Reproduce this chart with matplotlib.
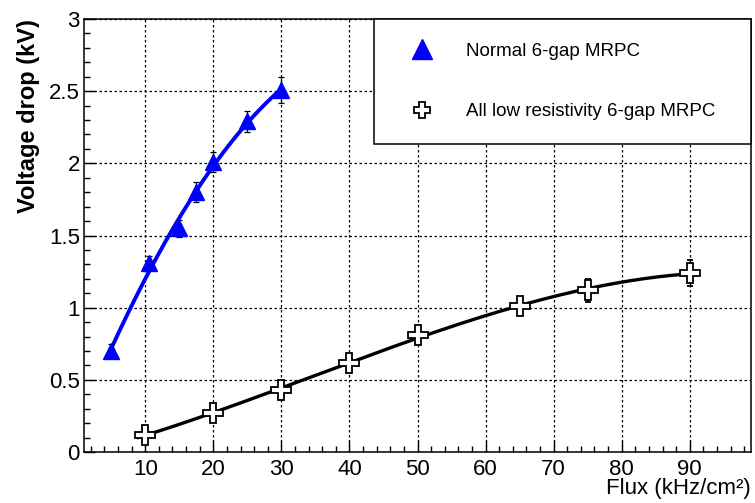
import numpy as np
import matplotlib
matplotlib.use("Agg")
import matplotlib.pyplot as plt
from matplotlib.lines import Line2D
from matplotlib.ticker import MultipleLocator

plt.rcParams['font.family'] = ['Liberation Sans', 'DejaVu Sans']

# Data
normal_x = [5, 10.5, 15, 17.5, 20, 25, 30]
normal_y = [0.70, 1.31, 1.55, 1.80, 2.01, 2.29, 2.51]
normal_err = [0.05, 0.05, 0.06, 0.07, 0.07, 0.07, 0.09]

lowres_x = [10, 20, 30, 40, 50, 65, 75, 90]
lowres_y = [0.12, 0.27, 0.43, 0.62, 0.81, 1.01, 1.12, 1.24]
lowres_err = [0.06, 0.05, 0.05, 0.05, 0.05, 0.05, 0.08, 0.09]

labels = ["Normal 6-gap MRPC", "All low resistivity 6-gap MRPC"]
xticks = [10, 20, 30, 40, 50, 60, 70, 80, 90]
yticks = [0, 0.5, 1, 1.5, 2, 2.5, 3]

fig = plt.figure(figsize=(7.55, 5.03), dpi=100)
ax = fig.add_axes([84/755, 51/503, 667/755, 433/503])

# fit curves derived from data
pn = np.polyfit(normal_x, normal_y, 2)
xn = np.linspace(4.8, 30, 200)
ax.plot(xn, np.polyval(pn, xn), color='#0000ff', lw=2.8, zorder=3)

pl = np.polyfit(lowres_x, lowres_y, 3)
xl = np.linspace(9, 90, 300)
ax.plot(xl, np.polyval(pl, xl), color='black', lw=2.4, zorder=3)

ax.errorbar(normal_x, normal_y, yerr=normal_err, fmt='^', color='#0000ff',
            ms=12, ecolor='black', elinewidth=0.9, capsize=2, capthick=0.9, zorder=4)
ax.errorbar(lowres_x, lowres_y, yerr=lowres_err, fmt='P', mfc='white', mec='black',
            mew=1.3, ms=14, ecolor='black', elinewidth=0.9, capsize=2, capthick=0.9,
            zorder=4)

ax.set_xlim(1, 99)
ax.set_ylim(0, 3)
ax.set_xticks(xticks)
ax.set_yticks(yticks)
ax.set_yticklabels(['0', '0.5', '1', '1.5', '2', '2.5', '3'])
ax.xaxis.set_minor_locator(MultipleLocator(2))
ax.yaxis.set_minor_locator(MultipleLocator(0.1))
ax.tick_params(which='both', direction='in', top=False, right=False, labelsize=16,
               colors='black')
ax.tick_params(which='major', length=8, width=1)
ax.tick_params(which='minor', length=4.5, width=1)
ax.tick_params(axis='x', pad=5)
ax.tick_params(axis='y', pad=3)
ax.grid(True, which='major', linestyle=(0, (2, 2)), color='black', lw=0.9)
for s in ax.spines.values():
    s.set_linewidth(1.1)

ax.set_ylabel("Voltage drop (kV)", fontsize=17, fontweight='bold', loc='top', labelpad=6)
ax.set_xlabel("Flux (kHz/cm²)", fontsize=16, ha='right', va='top')
ax.xaxis.set_label_coords(1.0, -0.061)

handles = [
    Line2D([], [], marker='^', ls='none', color='#0000ff', ms=14),
    Line2D([], [], marker='P', ls='none', mfc='white', mec='black', mew=1.3, ms=12),
]
leg = ax.legend(handles, labels, loc='upper left',
                bbox_to_anchor=(290/667, 0.7136, 377/667, 0.2864), mode='expand',
                borderaxespad=0, fontsize=13.5, frameon=True, fancybox=False,
                framealpha=1, edgecolor='black', labelspacing=2.3, borderpad=1.27,
                handlelength=2.6, handletextpad=1.05)
leg.get_frame().set_linewidth(1.1)

fig.savefig("out.png", dpi=100)
